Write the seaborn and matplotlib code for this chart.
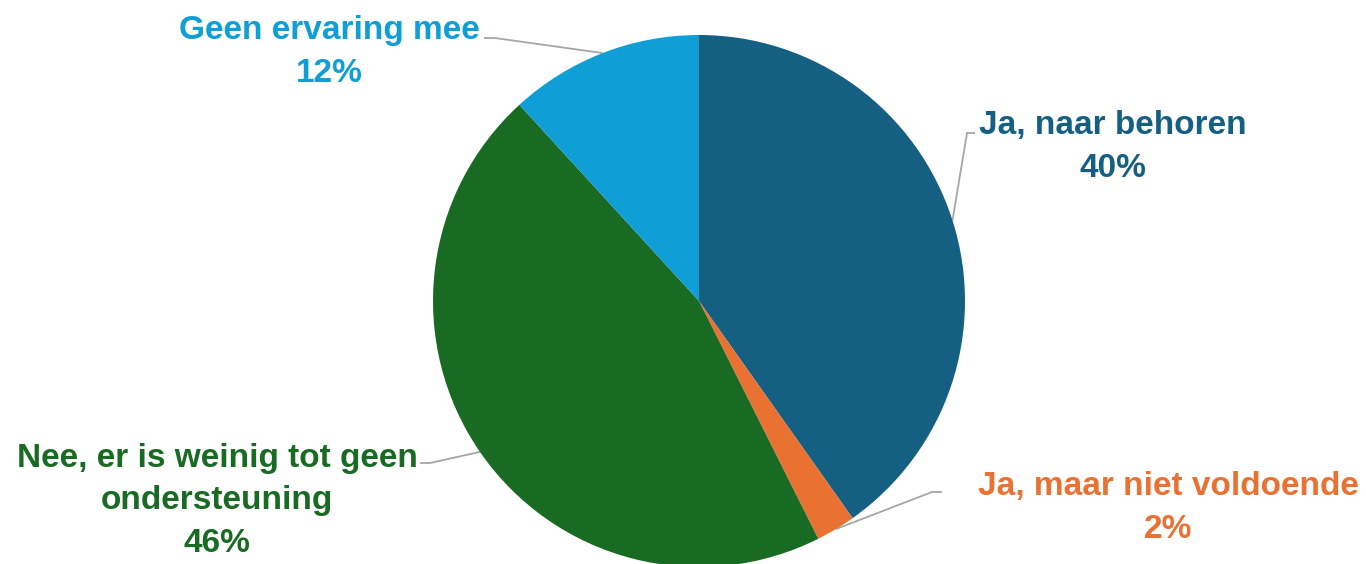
import numpy as np
import seaborn as sns
import matplotlib.pyplot as plt

sns.set_theme(style="white")
plt.rcParams['font.family'] = ['Liberation Sans', 'DejaVu Sans']

categories = ["Ja, naar behoren", "Ja, maar niet voldoende",
              "Nee, er is weinig tot geen\nondersteuning", "Geen ervaring mee"]
shares = [40.2, 2.4, 45.6, 11.8]
colors = ["#156082", "#E97132", "#196B24", "#0F9ED5"]

# label layout in pixel coords (x, y from top) and leader line elbows
label_xy = [(1113, 147), (1168, 508), (217, 501), (329, 52)]
elbow_xy = [(967, 133), (932, 492), (430, 463), (495, 38)]
line_end = [(975, 133), (942, 492), (420, 463), (484, 38)]

W, H = 1366, 564
fig = plt.figure(figsize=(W / 100, H / 100), dpi=100)
ax = fig.add_axes([0, 0, 1, 1])

cx, cy, r = 699, H - 301, 266
wedges, _ = ax.pie(shares, colors=colors, startangle=90, counterclock=False,
                   center=(cx, cy), radius=r, frame=True,
                   wedgeprops=dict(linewidth=0))
ax.set_xlim(0, W)
ax.set_ylim(0, H)
ax.set_aspect("equal")
ax.axis("off")

for w, cat, v, col, lxy, exy, lend in zip(wedges, categories, shares, colors,
                                          label_xy, elbow_xy, line_end):
    ang = np.deg2rad((w.theta1 + w.theta2) / 2)
    px, py = cx + r * np.cos(ang), cy + r * np.sin(ang)
    ax.plot([px, exy[0], lend[0]], [py, H - exy[1], H - lend[1]],
            color="#A6A6A6", lw=1.3, zorder=0, solid_capstyle="butt")
    ax.text(lxy[0], H - lxy[1], f"{cat}\n{round(v)}%", color=col,
            ha="center", va="center", fontsize=24, fontweight="bold",
            linespacing=1.5)

fig.savefig("out.png", dpi=100)
